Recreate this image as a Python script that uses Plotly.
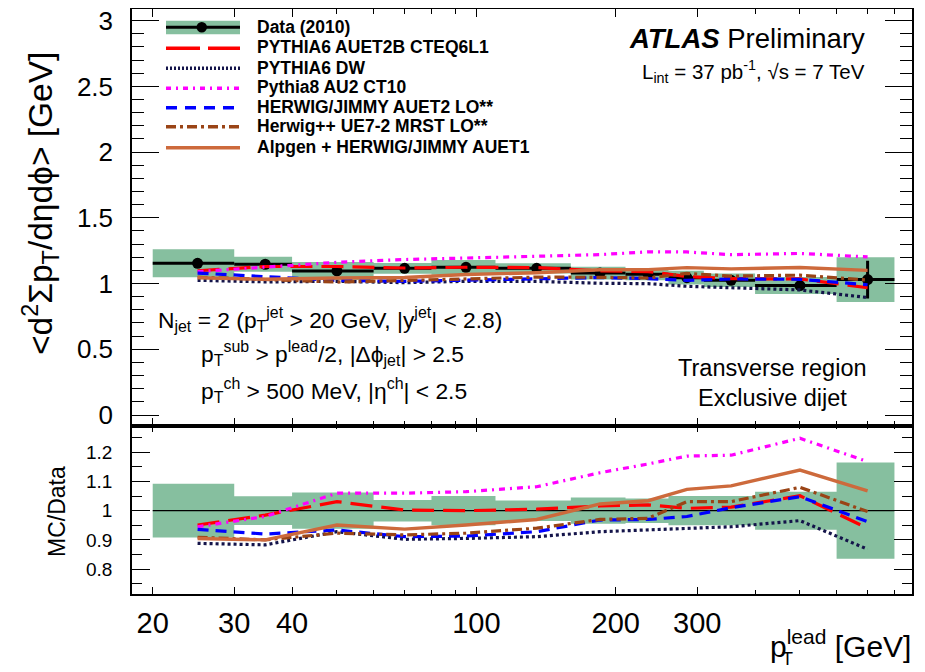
import plotly.graph_objects as go

# ---------------- data ----------------
bin_edges = [20, 30, 40, 60, 80, 110, 160, 210, 260, 310, 400, 600, 800]
bin_centres = [25, 35, 50, 70, 95, 135, 185, 235, 285, 355, 500, 700]

data_values = [1.154, 1.147, 1.096, 1.116, 1.124, 1.116, 1.080, 1.070, 1.045, 1.025, 0.985, 1.030]
data_stat = [0.005, 0.006, 0.006, 0.008, 0.009, 0.010, 0.012, 0.015, 0.018, 0.022, 0.030, 0.143]
data_rel_unc = [0.092, 0.049, 0.062, 0.037, 0.050, 0.035, 0.045, 0.042, 0.050, 0.050, 0.065, 0.165]

# MC / Data ratios
ratio_pythia6_auet2b = [0.951, 0.985, 1.031, 1.002, 1.000, 1.005, 1.016, 1.020, 1.008, 1.012, 1.051, 0.940]
ratio_pythia6_dw = [0.888, 0.883, 0.928, 0.902, 0.905, 0.911, 0.928, 0.934, 0.937, 0.945, 0.966, 0.868]
ratio_pythia8_au2 = [0.945, 0.980, 1.060, 1.060, 1.065, 1.082, 1.130, 1.160, 1.187, 1.190, 1.248, 1.168]
ratio_herwig_auet2 = [0.936, 0.920, 0.934, 0.911, 0.913, 0.928, 0.968, 0.970, 0.980, 1.010, 1.048, 0.962]
ratio_herwigpp = [0.909, 0.900, 0.923, 0.917, 0.923, 0.940, 0.970, 0.974, 1.031, 1.031, 1.080, 0.997]
ratio_alpgen = [0.905, 0.900, 0.951, 0.937, 0.951, 0.970, 1.023, 1.034, 1.073, 1.085, 1.139, 1.068]

x_major_ticks = [20, 30, 40, 100, 200, 300]
x_minor_ticks = [50, 60, 70, 80, 90, 400, 500, 600, 700, 800]
top_y_ticks = [0, 0.5, 1, 1.5, 2, 2.5, 3]
top_y_labels = ["0", "0.5", "1", "1.5", "2", "2.5", "3"]
ratio_y_ticks = [0.8, 0.9, 1.0, 1.1, 1.2]
ratio_y_labels = ["0.8", "0.9", "1", "1.1", "1.2"]

mc_models = [
    ("PYTHIA6 AUET2B CTEQ6L1", ratio_pythia6_auet2b, "#ff0000", "22px,9px", 3.2),
    ("PYTHIA6 DW", ratio_pythia6_dw, "#14144a", "3px,3px", 3.2),
    ("Pythia8 AU2 CT10", ratio_pythia8_au2, "#ff00ff", "6px,5px,2px,5px", 3.2),
    ("HERWIG/JIMMY AUET2 LO**", ratio_herwig_auet2, "#0000ff", "11px,7px", 3.2),
    ("Herwig++ UE7-2 MRST LO**", ratio_herwigpp, "#9a4416", "10px,4px,3px,4px", 3.2),
    ("Alpgen + HERWIG/JIMMY AUET1", ratio_alpgen, "#cd6a3c", "solid", 3.4),
]
legend_dash = ["34px,8px", "2px,2px", "5px,5px,2px,5px", "11px,8px", "10px,4px,3px,4px", "solid"]

GREEN = "#86bf9f"
FONT = "Liberation Sans, Arial, Helvetica, sans-serif"

# ---------------- figure geometry ----------------
# the page body adds an 8px offset; the figure is sized to compensate
OFF = 8
W, H = 925 - OFF, 672 - OFF
ML, MR, MT, MB = 132 - OFF, 13, 9 - OFF, 78
split = 0.2877


def px(xp):
    """reference-picture x pixel -> paper fraction"""
    return (xp - OFF - ML) / (W - ML - MR)


def py(yp):
    """reference-picture y pixel -> paper fraction"""
    return (H - MB - (yp - OFF)) / (H - MT - MB)


fig = go.Figure()


def box_polys(rel, scale_vals):
    xs, ys = [], []
    for i in range(len(bin_centres)):
        lo, hi = bin_edges[i], bin_edges[i + 1]
        c = scale_vals[i]
        y0, y1 = c * (1 - rel[i]), c * (1 + rel[i])
        xs += [lo, hi, hi, lo, lo, None]
        ys += [y0, y0, y1, y1, y0, None]
    return xs, ys


# ---- top panel ----
bx, by = box_polys(data_rel_unc, data_values)
fig.add_trace(go.Scatter(x=bx, y=by, mode="lines", fill="toself", fillcolor=GREEN,
                         line=dict(width=0, color=GREEN), showlegend=False,
                         hoverinfo="skip", xaxis="x", yaxis="y"))

fig.add_trace(go.Scatter(
    x=bin_centres, y=data_values, mode="markers",
    marker=dict(color="black", size=11),
    error_x=dict(type="data", symmetric=False,
                 array=[bin_edges[i + 1] - bin_centres[i] for i in range(len(bin_centres))],
                 arrayminus=[bin_centres[i] - bin_edges[i] for i in range(len(bin_centres))],
                 thickness=3, width=0, color="black"),
    error_y=dict(type="data", array=data_stat, thickness=3, width=0, color="black"),
    showlegend=False, xaxis="x", yaxis="y"))

for name, ratio, color, dash, width in mc_models:
    fig.add_trace(go.Scatter(
        x=bin_centres, y=[d * r for d, r in zip(data_values, ratio)], mode="lines",
        line=dict(color=color, dash=dash, width=width), name=name,
        showlegend=False, xaxis="x", yaxis="y"))

# ---- ratio panel ----
rx, ry = box_polys(data_rel_unc, [1.0] * len(bin_centres))
fig.add_trace(go.Scatter(x=rx, y=ry, mode="lines", fill="toself", fillcolor=GREEN,
                         line=dict(width=0, color=GREEN), showlegend=False,
                         hoverinfo="skip", xaxis="x2", yaxis="y2"))
fig.add_trace(go.Scatter(x=[bin_edges[0], bin_edges[-1]], y=[1, 1], mode="lines",
                         line=dict(color="black", width=1.2), showlegend=False,
                         xaxis="x2", yaxis="y2"))
for name, ratio, color, dash, width in mc_models:
    fig.add_trace(go.Scatter(
        x=bin_centres, y=ratio, mode="lines",
        line=dict(color=color, dash=dash, width=width), name=name,
        showlegend=False, xaxis="x2", yaxis="y2"))

# ---------------- axes ----------------
xrange_log = [1.2563, 2.941]
common_x = dict(type="log", range=xrange_log, showline=True, linecolor="black", linewidth=1.5,
                mirror="ticks", ticks="inside", tickcolor="black", tickwidth=1.3,
                tickmode="array", tickvals=x_major_ticks, showgrid=False, zeroline=False,
                domain=[0, 1], automargin=False, ticklabeloverflow="allow")
fig.update_layout(
    xaxis=dict(**common_x, anchor="y", showticklabels=False, ticklen=8,
               minor=dict(tickmode="array", tickvals=x_minor_ticks, ticks="inside",
                          ticklen=5, tickcolor="black", tickwidth=1.2, showgrid=False)),
    xaxis2=dict(**common_x, anchor="y2", matches="x", ticklen=7,
                ticktext=[str(v) for v in x_major_ticks],
                tickfont=dict(family=FONT, size=29, color="black"), ticklabelstandoff=2,
                minor=dict(tickmode="array", tickvals=x_minor_ticks, ticks="inside",
                           ticklen=4, tickcolor="black", tickwidth=1.2, showgrid=False)),
    yaxis=dict(domain=[split, 1], range=[-0.0814, 3.089], anchor="x", automargin=False,
               ticklabeloverflow="allow",
               showline=True, linecolor="black", linewidth=1.5, mirror="ticks",
               ticks="inside", ticklen=27, tickwidth=1.3, tickcolor="black",
               tickmode="array", tickvals=top_y_ticks, ticktext=top_y_labels,
               tickfont=dict(family=FONT, size=26, color="black"), ticklabelstandoff=12,
               minor=dict(dtick=0.1, tick0=0, ticks="inside", ticklen=12,
                          tickcolor="black", tickwidth=1.2, showgrid=False),
               showgrid=False, zeroline=False),
    yaxis2=dict(domain=[0, split], range=[0.7147, 1.291], anchor="x2", automargin=False,
                ticklabeloverflow="allow",
                showline=True, linecolor="black", linewidth=1.5, mirror="ticks",
                ticks="inside", ticklen=18, tickwidth=1.3, tickcolor="black",
                tickmode="array", tickvals=ratio_y_ticks, ticktext=ratio_y_labels,
                tickfont=dict(family=FONT, size=19, color="black"), ticklabelstandoff=14,
                minor=dict(dtick=0.05, tick0=0, ticks="inside", ticklen=10,
                           tickcolor="black", tickwidth=1.2, showgrid=False),
                showgrid=False, zeroline=False),
)

# ---------------- legend (drawn manually) ----------------
shapes = []
annotations = []
lx0, lx1 = px(166), px(240)
shapes.append(dict(type="rect", xref="paper", yref="paper", x0=lx0, x1=lx1,
                   y0=py(34.3), y1=py(20.7), fillcolor=GREEN, line=dict(width=0), layer="above"))
shapes.append(dict(type="line", xref="paper", yref="paper", x0=lx0, x1=lx1,
                   y0=py(27.3), y1=py(27.3), line=dict(color="black", width=3), layer="above"))
shapes.append(dict(type="circle", xref="paper", yref="paper", x0=px(196.5), x1=px(207),
                   y0=py(32.5), y1=py(22), fillcolor="black", line=dict(color="black", width=0),
                   layer="above"))
legend_line_y = [48.3, 68.3, 88.3, 107.7, 126.7, 147.7]
for (name, ratio, color, dash, width), ly, ld in zip(mc_models, legend_line_y, legend_dash):
    shapes.append(dict(type="line", xref="paper", yref="paper", x0=lx0, x1=lx1,
                       y0=py(ly), y1=py(ly), line=dict(color=color, width=3.4, dash=ld),
                       layer="above"))
legend_text_y = [26.7, 46.5, 67.7, 86.7, 107.3, 126.0, 146.7]
legend_names = ["Data (2010)"] + [m[0] for m in mc_models]
for name, ty in zip(legend_names, legend_text_y):
    annotations.append(dict(xref="paper", yref="paper", x=px(255), y=py(ty),
                            xanchor="left", yanchor="middle", showarrow=False,
                            text="<b>%s</b>" % name,
                            font=dict(family=FONT, size=17.5, color="black")))


def txt(x, y, text, size, xanchor="left", angle=0):
    annotations.append(dict(xref="paper", yref="paper", x=px(x), y=py(y), text=text,
                            xanchor=xanchor, yanchor="middle", showarrow=False,
                            textangle=angle,
                            font=dict(family=FONT, size=size, color="black")))


txt(627, 38, "<b><i>ATLAS</i></b> Preliminary", 27.5)
txt(640, 72, "L<sub>int</sub> = 37 pb<sup>-1</sup>, √s = 7 TeV", 20.5)
txt(156, 319, "N<sub>jet</sub> = 2 (p<sub>T</sub><sup>jet</sup> &gt; 20 GeV, |y<sup>jet</sup>| &lt; 2.8)", 22.8)
txt(199, 353, "p<sub>T</sub><sup>sub</sup> &gt; p<sup>lead</sup>/2, |Δϕ<sub>jet</sub>| &gt; 2.5", 22.8)
txt(199, 390, "p<sub>T</sub><sup>ch</sup> &gt; 500 MeV, |η<sup>ch</sup>| &lt; 2.5", 22.8)
txt(772, 368, "Transverse region", 23.5, xanchor="center")
txt(772, 398, "Exclusive dijet", 23.5, xanchor="center")

# axis titles
txt(40, 204, "&lt;d<sup>2</sup>Σp<sub>T</sub>/dηdϕ&gt; [GeV]", 33.5, xanchor="center", angle=-90)
txt(57, 512, "MC/Data", 23, xanchor="center", angle=-90)
annotations.append(dict(xref="paper", yref="paper", x=px(913), y=py(644),
                        text="p<sup>lead</sup> [GeV]", xanchor="right", yanchor="middle",
                        showarrow=False, font=dict(family=FONT, size=30, color="black")))
annotations.append(dict(xref="paper", yref="paper", x=px(787), y=py(659),
                        text="T", xanchor="center", yanchor="middle",
                        showarrow=False, font=dict(family=FONT, size=18, color="black")))

fig.update_layout(
    width=W, height=H, margin=dict(l=ML, r=MR, t=MT, b=MB, autoexpand=False),
    paper_bgcolor="white", plot_bgcolor="white",
    showlegend=False, shapes=shapes, annotations=annotations,
    font=dict(family=FONT, color="black"),
)

fig.write_html("out.html")
